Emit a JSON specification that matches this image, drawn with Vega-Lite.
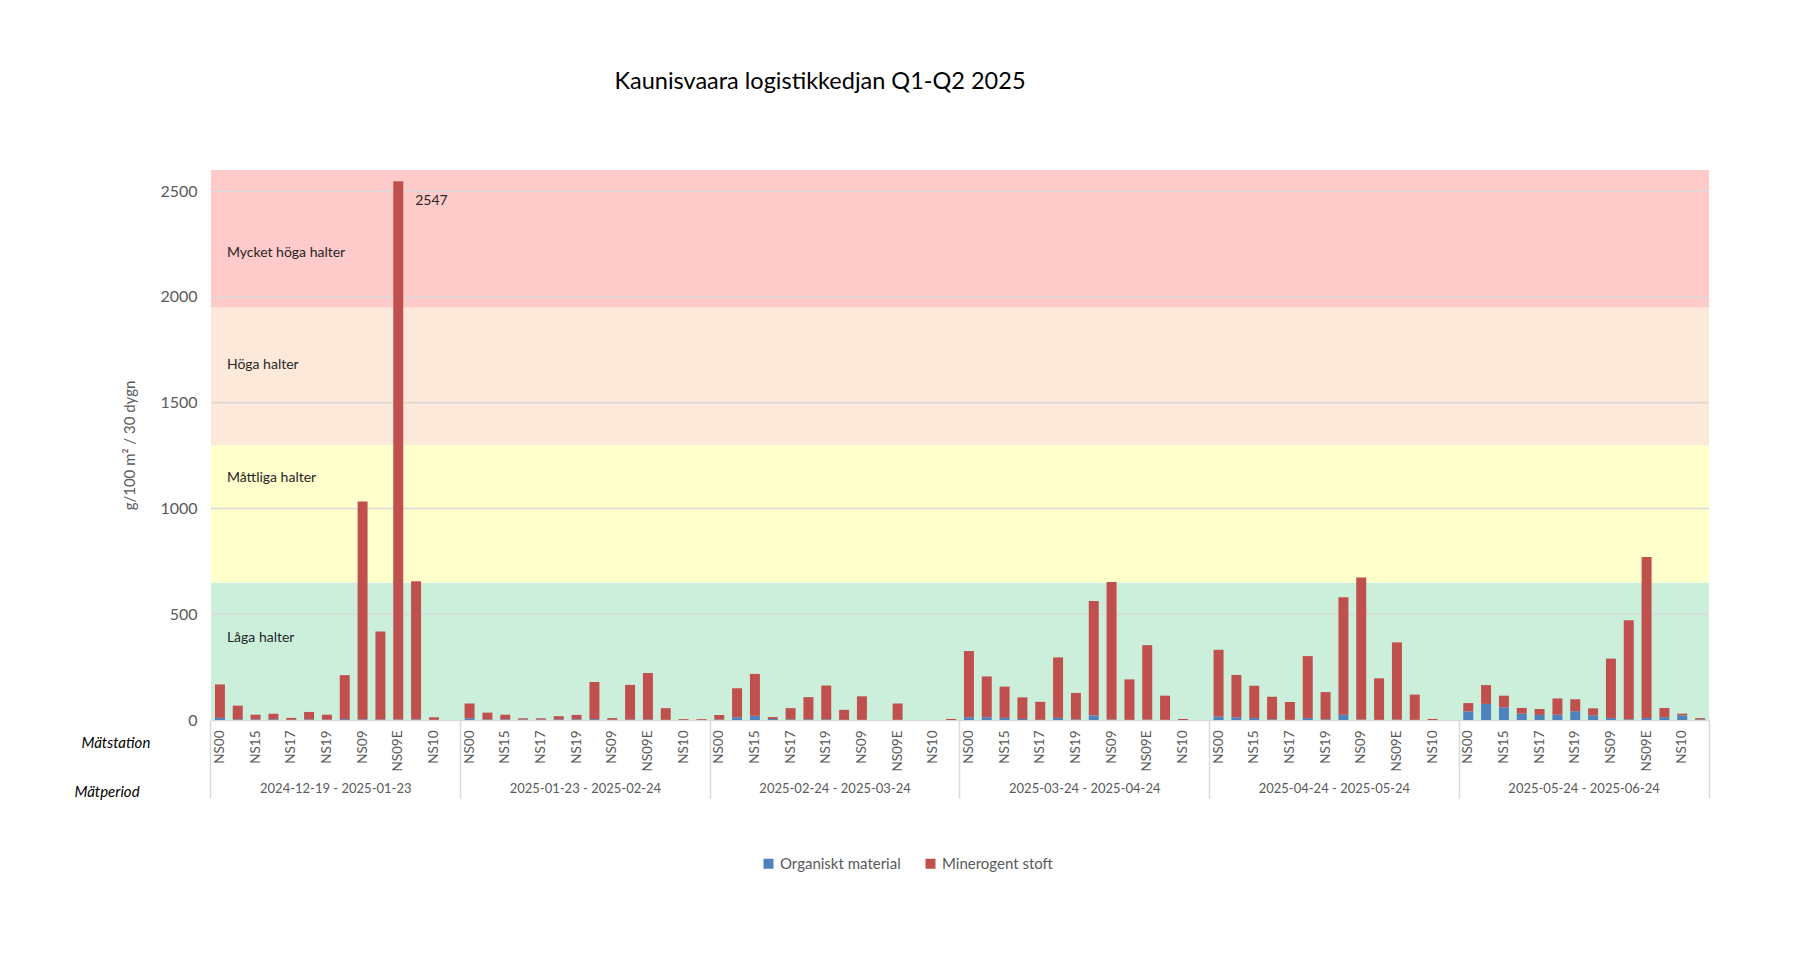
{
 "$schema": "https://vega.github.io/schema/vega-lite/v6.json",
 "width": 1498,
 "height": 550,
 "autosize": {"type": "none"},
 "padding": {"left": 211, "top": 170, "right": 84, "bottom": 236},
 "background": "white",
 "title": {"text": "Kaunisvaara logistikkedjan Q1-Q2 2025", "font": "Lato", "fontSize": 23.5, "fontWeight": "normal", "color": "#000000", "anchor": "middle", "dx": -140, "offset": 77},
 "config": {"view": {"stroke": null}, "font": "Lato"},
 "datasets": {
  "zones": [
   {"zone": "Låga halter", "lo": 0, "hi": 650, "ly": 388},
   {"zone": "Måttliga halter", "lo": 650, "hi": 1300, "ly": 1144},
   {"zone": "Höga halter", "lo": 1300, "hi": 1950, "ly": 1678},
   {"zone": "Mycket höga halter", "lo": 1950, "hi": 2600, "ly": 2207}
  ],
  "grid": [{"g": 500}, {"g": 1000}, {"g": 1500}, {"g": 2000}, {"g": 2500}],
  "bars": [
   {"id": "2024-12-19 - 2025-01-23|NS00", "Organiskt material": 10, "Minerogent stoft": 158},
   {"id": "2024-12-19 - 2025-01-23|NS14", "Organiskt material": 3, "Minerogent stoft": 65},
   {"id": "2024-12-19 - 2025-01-23|NS15", "Organiskt material": 3, "Minerogent stoft": 22},
   {"id": "2024-12-19 - 2025-01-23|NS16", "Organiskt material": 3, "Minerogent stoft": 27},
   {"id": "2024-12-19 - 2025-01-23|NS17", "Organiskt material": 1, "Minerogent stoft": 9},
   {"id": "2024-12-19 - 2025-01-23|NS18", "Organiskt material": 3, "Minerogent stoft": 35},
   {"id": "2024-12-19 - 2025-01-23|NS19", "Organiskt material": 2, "Minerogent stoft": 23},
   {"id": "2024-12-19 - 2025-01-23|NS20", "Organiskt material": 4, "Minerogent stoft": 208},
   {"id": "2024-12-19 - 2025-01-23|NS09", "Organiskt material": 3, "Minerogent stoft": 1030},
   {"id": "2024-12-19 - 2025-01-23|NS09W", "Organiskt material": 2, "Minerogent stoft": 416},
   {"id": "2024-12-19 - 2025-01-23|NS09E", "Organiskt material": 2, "Minerogent stoft": 2545},
   {"id": "2024-12-19 - 2025-01-23|NS09S", "Organiskt material": 3, "Minerogent stoft": 653},
   {"id": "2024-12-19 - 2025-01-23|NS10", "Organiskt material": 1, "Minerogent stoft": 12},
   {"id": "2024-12-19 - 2025-01-23|NS11", "Organiskt material": 0, "Minerogent stoft": 0},
   {"id": "2025-01-23 - 2025-02-24|NS00", "Organiskt material": 8, "Minerogent stoft": 70},
   {"id": "2025-01-23 - 2025-02-24|NS14", "Organiskt material": 3, "Minerogent stoft": 32},
   {"id": "2025-01-23 - 2025-02-24|NS15", "Organiskt material": 3, "Minerogent stoft": 22},
   {"id": "2025-01-23 - 2025-02-24|NS16", "Organiskt material": 2, "Minerogent stoft": 6},
   {"id": "2025-01-23 - 2025-02-24|NS17", "Organiskt material": 2, "Minerogent stoft": 6},
   {"id": "2025-01-23 - 2025-02-24|NS18", "Organiskt material": 3, "Minerogent stoft": 15},
   {"id": "2025-01-23 - 2025-02-24|NS19", "Organiskt material": 3, "Minerogent stoft": 21},
   {"id": "2025-01-23 - 2025-02-24|NS20", "Organiskt material": 4, "Minerogent stoft": 176},
   {"id": "2025-01-23 - 2025-02-24|NS09", "Organiskt material": 1, "Minerogent stoft": 8},
   {"id": "2025-01-23 - 2025-02-24|NS09W", "Organiskt material": 2, "Minerogent stoft": 164},
   {"id": "2025-01-23 - 2025-02-24|NS09E", "Organiskt material": 2, "Minerogent stoft": 220},
   {"id": "2025-01-23 - 2025-02-24|NS09S", "Organiskt material": 1, "Minerogent stoft": 55},
   {"id": "2025-01-23 - 2025-02-24|NS10", "Organiskt material": 0, "Minerogent stoft": 4},
   {"id": "2025-01-23 - 2025-02-24|NS11", "Organiskt material": 0, "Minerogent stoft": 4},
   {"id": "2025-02-24 - 2025-03-24|NS00", "Organiskt material": 2, "Minerogent stoft": 22},
   {"id": "2025-02-24 - 2025-03-24|NS14", "Organiskt material": 13, "Minerogent stoft": 137},
   {"id": "2025-02-24 - 2025-03-24|NS15", "Organiskt material": 20, "Minerogent stoft": 198},
   {"id": "2025-02-24 - 2025-03-24|NS16", "Organiskt material": 5, "Minerogent stoft": 9},
   {"id": "2025-02-24 - 2025-03-24|NS17", "Organiskt material": 3, "Minerogent stoft": 53},
   {"id": "2025-02-24 - 2025-03-24|NS18", "Organiskt material": 3, "Minerogent stoft": 105},
   {"id": "2025-02-24 - 2025-03-24|NS19", "Organiskt material": 3, "Minerogent stoft": 160},
   {"id": "2025-02-24 - 2025-03-24|NS20", "Organiskt material": 1, "Minerogent stoft": 47},
   {"id": "2025-02-24 - 2025-03-24|NS09", "Organiskt material": 1, "Minerogent stoft": 111},
   {"id": "2025-02-24 - 2025-03-24|NS09W", "Organiskt material": 0, "Minerogent stoft": 0},
   {"id": "2025-02-24 - 2025-03-24|NS09E", "Organiskt material": 1, "Minerogent stoft": 77},
   {"id": "2025-02-24 - 2025-03-24|NS09S", "Organiskt material": 0, "Minerogent stoft": 0},
   {"id": "2025-02-24 - 2025-03-24|NS10", "Organiskt material": 0, "Minerogent stoft": 0},
   {"id": "2025-02-24 - 2025-03-24|NS11", "Organiskt material": 0, "Minerogent stoft": 5},
   {"id": "2025-03-24 - 2025-04-24|NS00", "Organiskt material": 13, "Minerogent stoft": 313},
   {"id": "2025-03-24 - 2025-04-24|NS14", "Organiskt material": 13, "Minerogent stoft": 193},
   {"id": "2025-03-24 - 2025-04-24|NS15", "Organiskt material": 10, "Minerogent stoft": 148},
   {"id": "2025-03-24 - 2025-04-24|NS16", "Organiskt material": 5, "Minerogent stoft": 102},
   {"id": "2025-03-24 - 2025-04-24|NS17", "Organiskt material": 1, "Minerogent stoft": 85},
   {"id": "2025-03-24 - 2025-04-24|NS18", "Organiskt material": 10, "Minerogent stoft": 286},
   {"id": "2025-03-24 - 2025-04-24|NS19", "Organiskt material": 3, "Minerogent stoft": 125},
   {"id": "2025-03-24 - 2025-04-24|NS20", "Organiskt material": 22, "Minerogent stoft": 541},
   {"id": "2025-03-24 - 2025-04-24|NS09", "Organiskt material": 2, "Minerogent stoft": 650},
   {"id": "2025-03-24 - 2025-04-24|NS09W", "Organiskt material": 1, "Minerogent stoft": 191},
   {"id": "2025-03-24 - 2025-04-24|NS09E", "Organiskt material": 2, "Minerogent stoft": 352},
   {"id": "2025-03-24 - 2025-04-24|NS09S", "Organiskt material": 1, "Minerogent stoft": 114},
   {"id": "2025-03-24 - 2025-04-24|NS10", "Organiskt material": 0, "Minerogent stoft": 5},
   {"id": "2025-03-24 - 2025-04-24|NS11", "Organiskt material": 0, "Minerogent stoft": 0},
   {"id": "2025-04-24 - 2025-05-24|NS00", "Organiskt material": 16, "Minerogent stoft": 316},
   {"id": "2025-04-24 - 2025-05-24|NS14", "Organiskt material": 13, "Minerogent stoft": 200},
   {"id": "2025-04-24 - 2025-05-24|NS15", "Organiskt material": 9, "Minerogent stoft": 153},
   {"id": "2025-04-24 - 2025-05-24|NS16", "Organiskt material": 3, "Minerogent stoft": 107},
   {"id": "2025-04-24 - 2025-05-24|NS17", "Organiskt material": 1, "Minerogent stoft": 84},
   {"id": "2025-04-24 - 2025-05-24|NS18", "Organiskt material": 9, "Minerogent stoft": 293},
   {"id": "2025-04-24 - 2025-05-24|NS19", "Organiskt material": 3, "Minerogent stoft": 129},
   {"id": "2025-04-24 - 2025-05-24|NS20", "Organiskt material": 25, "Minerogent stoft": 555},
   {"id": "2025-04-24 - 2025-05-24|NS09", "Organiskt material": 2, "Minerogent stoft": 672},
   {"id": "2025-04-24 - 2025-05-24|NS09W", "Organiskt material": 1, "Minerogent stoft": 196},
   {"id": "2025-04-24 - 2025-05-24|NS09E", "Organiskt material": 2, "Minerogent stoft": 365},
   {"id": "2025-04-24 - 2025-05-24|NS09S", "Organiskt material": 1, "Minerogent stoft": 119},
   {"id": "2025-04-24 - 2025-05-24|NS10", "Organiskt material": 0, "Minerogent stoft": 5},
   {"id": "2025-04-24 - 2025-05-24|NS11", "Organiskt material": 0, "Minerogent stoft": 0},
   {"id": "2025-05-24 - 2025-06-24|NS00", "Organiskt material": 41, "Minerogent stoft": 39},
   {"id": "2025-05-24 - 2025-06-24|NS14", "Organiskt material": 76, "Minerogent stoft": 89},
   {"id": "2025-05-24 - 2025-06-24|NS15", "Organiskt material": 60, "Minerogent stoft": 55},
   {"id": "2025-05-24 - 2025-06-24|NS16", "Organiskt material": 30, "Minerogent stoft": 27},
   {"id": "2025-05-24 - 2025-06-24|NS17", "Organiskt material": 24, "Minerogent stoft": 28},
   {"id": "2025-05-24 - 2025-06-24|NS18", "Organiskt material": 25, "Minerogent stoft": 77},
   {"id": "2025-05-24 - 2025-06-24|NS19", "Organiskt material": 41, "Minerogent stoft": 57},
   {"id": "2025-05-24 - 2025-06-24|NS20", "Organiskt material": 22, "Minerogent stoft": 33},
   {"id": "2025-05-24 - 2025-06-24|NS09", "Organiskt material": 9, "Minerogent stoft": 281},
   {"id": "2025-05-24 - 2025-06-24|NS09W", "Organiskt material": 3, "Minerogent stoft": 469},
   {"id": "2025-05-24 - 2025-06-24|NS09E", "Organiskt material": 9, "Minerogent stoft": 761},
   {"id": "2025-05-24 - 2025-06-24|NS09S", "Organiskt material": 13, "Minerogent stoft": 44},
   {"id": "2025-05-24 - 2025-06-24|NS10", "Organiskt material": 22, "Minerogent stoft": 8},
   {"id": "2025-05-24 - 2025-06-24|NS11", "Organiskt material": 3, "Minerogent stoft": 6}
  ],
  "peak": [{"id": "2024-12-19 - 2025-01-23|NS09E", "total": 2547}]
 },
 "layer": [
  {
   "data": {"name": "zones"},
   "mark": {"type": "rect"},
   "encoding": {
    "y": {"field": "lo", "type": "quantitative", "scale": {"domain": [0, 2600], "nice": false}},
    "y2": {"field": "hi"},
    "fill": {"field": "zone", "type": "nominal", "legend": null,
     "scale": {"domain": ["Låga halter", "Måttliga halter", "Höga halter", "Mycket höga halter"], "range": ["#CCEFDB", "#FFFFCC", "#FDE9DA", "#FFCACA"]}}
   }
  },
  {
   "data": {"name": "grid"},
   "mark": {"type": "rule", "color": "#D9D9D9", "strokeWidth": 1.5},
   "encoding": {"y": {"field": "g", "type": "quantitative"}}
  },
  {
   "data": {"name": "zones"},
   "mark": {"type": "text", "align": "left", "baseline": "middle", "font": "Lato", "fontSize": 14, "color": "#262626", "dx": 7},
   "encoding": {
    "x": {"datum": "2024-12-19 - 2025-01-23|NS00", "type": "nominal", "axis": null},
    "y": {"field": "ly", "type": "quantitative"},
    "text": {"field": "zone"}
   }
  },
  {
   "data": {"name": "bars"},
   "transform": [{"fold": ["Organiskt material", "Minerogent stoft"], "as": ["typ", "varde"]}],
   "mark": {"type": "bar"},
   "encoding": {
    "x": {"field": "id", "type": "nominal",
     "scale": {"paddingInner": 0.44, "paddingOuter": 0.22, "domain": [
      "2024-12-19 - 2025-01-23|NS00","2024-12-19 - 2025-01-23|NS14","2024-12-19 - 2025-01-23|NS15","2024-12-19 - 2025-01-23|NS16","2024-12-19 - 2025-01-23|NS17","2024-12-19 - 2025-01-23|NS18","2024-12-19 - 2025-01-23|NS19","2024-12-19 - 2025-01-23|NS20","2024-12-19 - 2025-01-23|NS09","2024-12-19 - 2025-01-23|NS09W","2024-12-19 - 2025-01-23|NS09E","2024-12-19 - 2025-01-23|NS09S","2024-12-19 - 2025-01-23|NS10","2024-12-19 - 2025-01-23|NS11",
      "2025-01-23 - 2025-02-24|NS00","2025-01-23 - 2025-02-24|NS14","2025-01-23 - 2025-02-24|NS15","2025-01-23 - 2025-02-24|NS16","2025-01-23 - 2025-02-24|NS17","2025-01-23 - 2025-02-24|NS18","2025-01-23 - 2025-02-24|NS19","2025-01-23 - 2025-02-24|NS20","2025-01-23 - 2025-02-24|NS09","2025-01-23 - 2025-02-24|NS09W","2025-01-23 - 2025-02-24|NS09E","2025-01-23 - 2025-02-24|NS09S","2025-01-23 - 2025-02-24|NS10","2025-01-23 - 2025-02-24|NS11",
      "2025-02-24 - 2025-03-24|NS00","2025-02-24 - 2025-03-24|NS14","2025-02-24 - 2025-03-24|NS15","2025-02-24 - 2025-03-24|NS16","2025-02-24 - 2025-03-24|NS17","2025-02-24 - 2025-03-24|NS18","2025-02-24 - 2025-03-24|NS19","2025-02-24 - 2025-03-24|NS20","2025-02-24 - 2025-03-24|NS09","2025-02-24 - 2025-03-24|NS09W","2025-02-24 - 2025-03-24|NS09E","2025-02-24 - 2025-03-24|NS09S","2025-02-24 - 2025-03-24|NS10","2025-02-24 - 2025-03-24|NS11",
      "2025-03-24 - 2025-04-24|NS00","2025-03-24 - 2025-04-24|NS14","2025-03-24 - 2025-04-24|NS15","2025-03-24 - 2025-04-24|NS16","2025-03-24 - 2025-04-24|NS17","2025-03-24 - 2025-04-24|NS18","2025-03-24 - 2025-04-24|NS19","2025-03-24 - 2025-04-24|NS20","2025-03-24 - 2025-04-24|NS09","2025-03-24 - 2025-04-24|NS09W","2025-03-24 - 2025-04-24|NS09E","2025-03-24 - 2025-04-24|NS09S","2025-03-24 - 2025-04-24|NS10","2025-03-24 - 2025-04-24|NS11",
      "2025-04-24 - 2025-05-24|NS00","2025-04-24 - 2025-05-24|NS14","2025-04-24 - 2025-05-24|NS15","2025-04-24 - 2025-05-24|NS16","2025-04-24 - 2025-05-24|NS17","2025-04-24 - 2025-05-24|NS18","2025-04-24 - 2025-05-24|NS19","2025-04-24 - 2025-05-24|NS20","2025-04-24 - 2025-05-24|NS09","2025-04-24 - 2025-05-24|NS09W","2025-04-24 - 2025-05-24|NS09E","2025-04-24 - 2025-05-24|NS09S","2025-04-24 - 2025-05-24|NS10","2025-04-24 - 2025-05-24|NS11",
      "2025-05-24 - 2025-06-24|NS00","2025-05-24 - 2025-06-24|NS14","2025-05-24 - 2025-06-24|NS15","2025-05-24 - 2025-06-24|NS16","2025-05-24 - 2025-06-24|NS17","2025-05-24 - 2025-06-24|NS18","2025-05-24 - 2025-06-24|NS19","2025-05-24 - 2025-06-24|NS20","2025-05-24 - 2025-06-24|NS09","2025-05-24 - 2025-06-24|NS09W","2025-05-24 - 2025-06-24|NS09E","2025-05-24 - 2025-06-24|NS09S","2025-05-24 - 2025-06-24|NS10","2025-05-24 - 2025-06-24|NS11"
     ]},
     "axis": {"labelExpr": "indexof(['NS00','NS15','NS17','NS19','NS09','NS09E','NS10'], split(datum.value,'|')[1]) >= 0 ? split(datum.value,'|')[1] : ''",
      "labelAngle": -90, "labelPadding": -68, "labelFont": "Lato", "labelFontSize": 13.5, "labelColor": "#595959", "labelOverlap": false,
      "ticks": true, "tickSize": 78, "tickColor": "#D9D9D9", "tickWidth": 1.5, "bandPosition": 1.393,
      "tickOpacity": {"condition": {"test": "datum.value == '2025-05-24 - 2025-06-24|NS11'", "value": 1}, "value": 0},
      "domain": true, "domainColor": "#D9D9D9", "domainWidth": 1.5, "grid": false,
      "title": "Mätstation", "titleX": -130, "titleY": 22, "titleAlign": "left", "titleBaseline": "middle", "titleAngle": 0,
      "titleFont": "Lato", "titleFontSize": 15, "titleFontStyle": "italic", "titleFontWeight": "normal", "titleColor": "#000000"}},
    "y": {"field": "varde", "type": "quantitative", "stack": "zero",
     "axis": {"values": [0, 500, 1000, 1500, 2000, 2500], "format": "d", "title": "g/100 m² / 30 dygn", "grid": false, "ticks": false, "domain": false,
      "labelFont": "Lato", "labelFontSize": 16, "labelColor": "#595959", "labelPadding": 14,
      "titleFont": "Lato", "titleFontSize": 15, "titleFontWeight": "normal", "titleColor": "#595959", "titleX": -74}},
    "color": {"field": "typ", "type": "nominal",
     "scale": {"domain": ["Organiskt material", "Minerogent stoft"], "range": ["#4F81BD", "#C0504D"]},
     "legend": {"orient": "none", "legendX": 550, "legendY": 686, "direction": "horizontal", "title": null,
      "symbolType": "square", "symbolSize": 100, "symbolStrokeWidth": 0, "labelFont": "Lato", "labelFontSize": 15, "labelColor": "#595959", "columnPadding": 22, "labelOffset": 4}},
    "order": {"field": "typ", "sort": "descending"}
   }
  },
  {
   "data": {"name": "peak"},
   "mark": {"type": "text", "align": "left", "baseline": "middle", "font": "Lato", "fontSize": 14, "color": "#262626", "dx": 17, "dy": 20},
   "encoding": {
    "x": {"field": "id", "type": "nominal", "axis": null},
    "y": {"field": "total", "type": "quantitative"},
    "text": {"field": "total"}
   }
  },
  {
   "data": {"name": "bars"},
   "mark": {"type": "point", "opacity": 0},
   "encoding": {
    "x": {"field": "id", "type": "nominal",
     "axis": {"values": ["2024-12-19 - 2025-01-23|NS00","2024-12-19 - 2025-01-23|NS20","2025-01-23 - 2025-02-24|NS00","2025-01-23 - 2025-02-24|NS20","2025-02-24 - 2025-03-24|NS00","2025-02-24 - 2025-03-24|NS20","2025-03-24 - 2025-04-24|NS00","2025-03-24 - 2025-04-24|NS20","2025-04-24 - 2025-05-24|NS00","2025-04-24 - 2025-05-24|NS20","2025-05-24 - 2025-06-24|NS00","2025-05-24 - 2025-06-24|NS20"],
      "orient": "bottom", "bandPosition": -0.393, "domain": false, "grid": false, "ticks": true, "tickSize": 78, "tickColor": "#D9D9D9", "tickWidth": 1.5,
      "tickOpacity": {"condition": {"test": "indexof(datum.value, '|NS00') >= 0", "value": 1}, "value": 0},
      "labelExpr": "indexof(datum.value, '|NS20') >= 0 ? split(datum.value,'|')[0] : ''",
      "labelAngle": 0, "labelPadding": -16, "labelOffset": -9, "labelFont": "Lato", "labelFontSize": 13, "labelColor": "#595959", "labelBaseline": "top", "labelAlign": "center", "labelOverlap": false,
      "title": "Mätperiod", "titleX": -137, "titleY": 71, "titleAlign": "left", "titleBaseline": "middle", "titleAngle": 0,
      "titleFont": "Lato", "titleFontSize": 15, "titleFontStyle": "italic", "titleFontWeight": "normal", "titleColor": "#000000"}}
   }
  }
 ],
 "resolve": {"axis": {"x": "independent"}}
}
